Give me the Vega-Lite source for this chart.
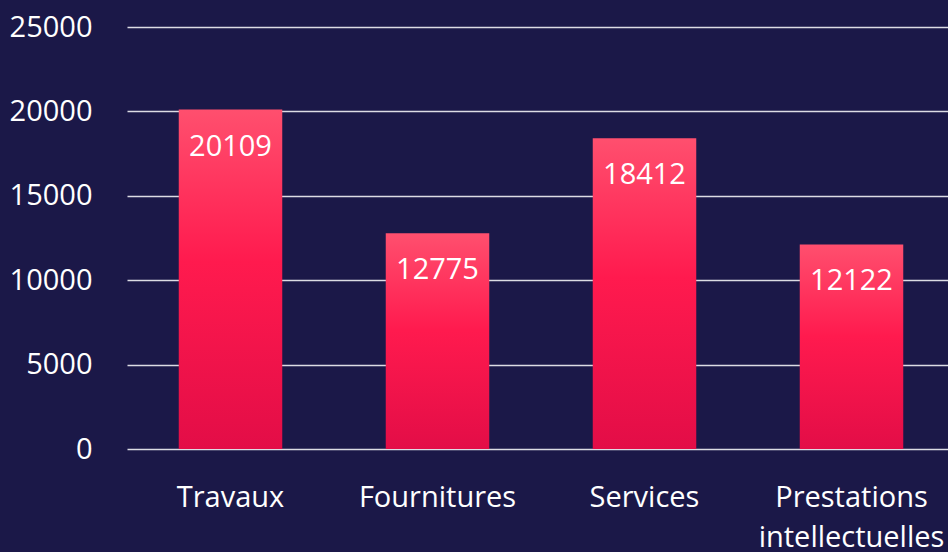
{
  "$schema": "https://vega.github.io/schema/vega-lite/v6.json",
  "autosize": "none",
  "width": 828,
  "height": 422,
  "padding": {"left": 127, "top": 27, "right": 0, "bottom": 103},
  "background": "#1b1848",
  "config": {"view": {"stroke": null}, "font": "Open Sans"},
  "data": {"values": [
    {"category": "Travaux", "value": 20109},
    {"category": "Fournitures", "value": 12775},
    {"category": "Services", "value": 18412},
    {"category": "Prestations intellectuelles", "value": 12122}
  ]},
  "encoding": {
    "x": {"field": "category", "type": "nominal", "sort": null,
      "scale": {"paddingInner": 0.5, "paddingOuter": 0.25},
      "axis": {"title": null, "labelAngle": 0, "domain": false, "ticks": false,
        "labelColor": "#ffffff", "labelFontSize": 29, "labelPadding": 34, "labelLimit": 0,
        "labelLineHeight": 40, "labelExpr": "split(datum.label, ' ')"}},
    "y": {"field": "value", "type": "quantitative",
      "scale": {"domain": [0, 25000]},
      "axis": {"title": null, "values": [0, 5000, 10000, 15000, 20000, 25000],
        "domain": false, "ticks": false, "labelColor": "#ffffff", "labelFontSize": 29,
        "labelPadding": 35, "gridColor": "#dcdce4", "gridWidth": 1.5, "format": "d"}}
  },
  "layer": [
    {"mark": {"type": "bar", "color": {"gradient": "linear", "x1": 0, "y1": 0, "x2": 0, "y2": 1,
      "stops": [{"offset": 0, "color": "#ff4f6e"}, {"offset": 0.45, "color": "#ff1a4e"}, {"offset": 1, "color": "#e30d47"}]}}},
    {"mark": {"type": "text", "color": "#ffffff", "fontSize": 29, "baseline": "middle", "dy": 37},
     "encoding": {"text": {"field": "value", "type": "quantitative", "format": "d"}}}
  ]
}
